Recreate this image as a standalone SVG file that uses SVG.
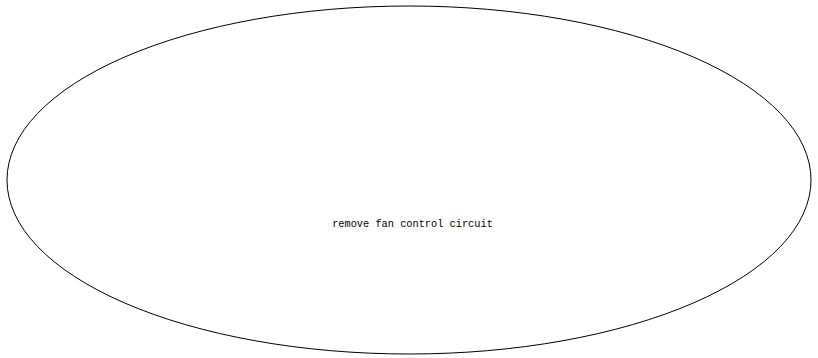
<svg xmlns="http://www.w3.org/2000/svg" width="818" height="358" viewBox="0 0 818 358">
<style>
.node{fill:#fff;stroke:#000;stroke-width:1}
.lbl{font-family:"Liberation Mono","Courier New",monospace;font-size:10.3px;fill:#000;text-anchor:middle}
</style>
<rect width="818" height="358" fill="#fff"/>
<g id="node1">
<ellipse class="node" cx="409" cy="180" rx="402" ry="174"/>
<text class="lbl" x="412.5" y="227">remove fan control circuit</text>
</g>
<g id="connectors"/>
</svg>
